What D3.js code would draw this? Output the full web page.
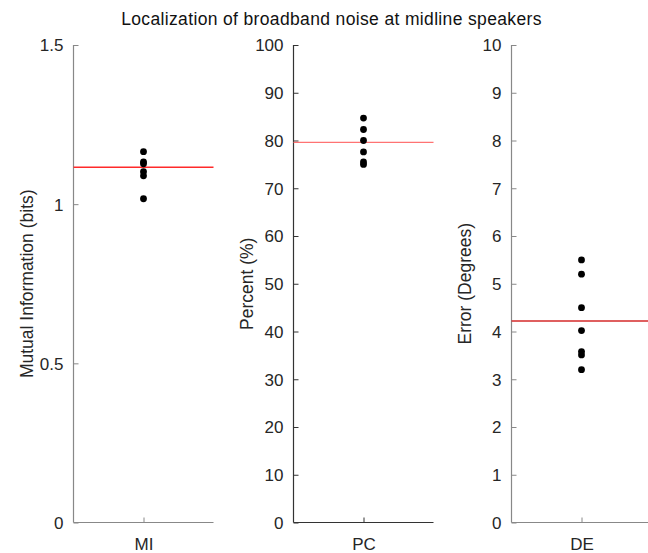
<!DOCTYPE html>
<html><head><meta charset="utf-8">
<script src="https://cdn.jsdelivr.net/npm/d3@7"></script>
<style>body{margin:0;background:#fff}svg{display:block}text{font-family:"Liberation Sans",Arial,sans-serif}</style>
</head><body>
<svg id="c" width="648" height="553"></svg>
<script>
const title = "Localization of broadband noise at midline speakers";
const categories = ["MI", "PC", "DE"];
const yLabels = ["Mutual Information (bits)", "Percent (%)", "Error (Degrees)"];
const yDomains = [[0, 1.5], [0, 100], [0, 10]];
const yTicks = [[0, 0.5, 1, 1.5], [0,10,20,30,40,50,60,70,80,90,100], [0,1,2,3,4,5,6,7,8,9,10]];
const miValues = [1.165, 1.133, 1.127, 1.102, 1.089, 1.017];
const pcValues = [84.7, 82.3, 80.0, 77.6, 75.5, 75.0];
const deValues = [5.50, 5.20, 4.50, 4.02, 3.58, 3.51, 3.20];
const refValues = [1.116, 79.6, 4.22];

const series = [miValues, pcValues, deValues];
const panelX = [73.5, 293.5, 511.5];
const panelW = 140;
const axisColors = ["#888", "#333", "#888"];
const lineColors = ["#ff2a2a", "#ff7373", "#d42a2a"];
const plotTop = 45, plotBottom = 522.5;

const svg = d3.select("#c");
svg.append("text").attr("x", 331.5).attr("y", 25).attr("text-anchor", "middle")
  .attr("font-size", 17.5).attr("letter-spacing", 0.35).attr("fill", "#111").text(title);

categories.forEach((cat, i) => {
  const g = svg.append("g");
  const x = d3.scalePoint().domain([cat]).range([panelX[i], panelX[i] + panelW]).padding(0.5);
  const y = d3.scaleLinear().domain(yDomains[i]).range([plotBottom, plotTop]);
  const yAxis = d3.axisLeft(y).tickValues(yTicks[i]).tickSize(-5).tickPadding(10)
    .tickFormat(d => d3.format("")(d));
  const ya = g.append("g").attr("transform", `translate(${panelX[i]},0)`).call(yAxis);
  const xAxis = d3.axisBottom(x).tickSize(-5).tickPadding(15);
  const xa = g.append("g").attr("transform", `translate(0,${plotBottom})`).call(xAxis);
  [ya, xa].forEach(a => {
    a.select(".domain").attr("stroke", axisColors[i]).attr("stroke-width", 1.2);
    a.selectAll(".tick line").attr("stroke", axisColors[i]);
    a.selectAll(".tick text").attr("font-size", 17).attr("fill", "#262626")
      .attr("font-family", '"Liberation Sans",Arial,sans-serif');
  });
  ya.select(".domain").attr("d", `M0,${plotTop}V${plotBottom}`);
  ya.selectAll(".tick text").attr("dy", "0.35em");
  xa.select(".domain").attr("d", `M${panelX[i]},0H${panelX[i] + panelW}`);
  xa.selectAll(".tick text").attr("dy", "0.71em");

  // y label
  g.append("text")
    .attr("transform", `translate(${panelX[i] - 41},${(plotTop + plotBottom) / 2}) rotate(-90)`)
    .attr("text-anchor", "middle").attr("font-size", 17.5).attr("fill", "#262626")
    .text(yLabels[i]);

  // reference line
  g.append("line")
    .attr("x1", panelX[i]).attr("x2", panelX[i] + panelW)
    .attr("y1", y(refValues[i])).attr("y2", y(refValues[i]))
    .attr("stroke", lineColors[i]).attr("stroke-width", 1.3);

  // dots
  g.selectAll("circle.d").data(series[i]).join("circle")
    .attr("cx", x(cat)).attr("cy", d => y(d)).attr("r", 3.4).attr("fill", "#000");
});
</script>
</body></html>
